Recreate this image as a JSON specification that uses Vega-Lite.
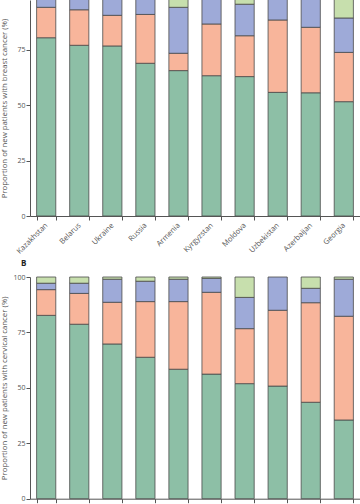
{
  "$schema": "https://vega.github.io/schema/vega-lite/v6.json",
  "padding": 0,
  "background": "white",
  "bounds": "flush",
  "spacing": 61,
  "config": {
    "view": {"stroke": null},
    "font": "Open Sans",
    "axis": {"labelFont": "Open Sans", "titleFont": "Open Sans", "labelFontSize": 7, "titleFontSize": 7.8, "labelColor": "#555", "titleColor": "#555", "titleFontWeight": "normal", "domainColor": "#555", "tickColor": "#555", "tickSize": 4, "labelPadding": 1, "grid": false},
    "axisY": {"titleX": -22},
    "bar": {"stroke": "#4a4a4a", "strokeWidth": 0.8}
  },
  "datasets": {
    "breast": [
      {"country": "Kazakhstan", "stage": "Stage I", "pct": 80.3}, {"country": "Kazakhstan", "stage": "Stage II", "pct": 13.7}, {"country": "Kazakhstan", "stage": "Stage III", "pct": 5.0}, {"country": "Kazakhstan", "stage": "Stage IV", "pct": 1.0},
      {"country": "Belarus", "stage": "Stage I", "pct": 76.9}, {"country": "Belarus", "stage": "Stage II", "pct": 16.0}, {"country": "Belarus", "stage": "Stage III", "pct": 6.1}, {"country": "Belarus", "stage": "Stage IV", "pct": 1.0},
      {"country": "Ukraine", "stage": "Stage I", "pct": 76.6}, {"country": "Ukraine", "stage": "Stage II", "pct": 13.8}, {"country": "Ukraine", "stage": "Stage III", "pct": 8.6}, {"country": "Ukraine", "stage": "Stage IV", "pct": 1.0},
      {"country": "Russia", "stage": "Stage I", "pct": 68.8}, {"country": "Russia", "stage": "Stage II", "pct": 22.0}, {"country": "Russia", "stage": "Stage III", "pct": 8.2}, {"country": "Russia", "stage": "Stage IV", "pct": 1.0},
      {"country": "Armenia", "stage": "Stage I", "pct": 65.5}, {"country": "Armenia", "stage": "Stage II", "pct": 7.8}, {"country": "Armenia", "stage": "Stage III", "pct": 20.7}, {"country": "Armenia", "stage": "Stage IV", "pct": 6.0},
      {"country": "Kyrgyzstan", "stage": "Stage I", "pct": 63.2}, {"country": "Kyrgyzstan", "stage": "Stage II", "pct": 23.3}, {"country": "Kyrgyzstan", "stage": "Stage III", "pct": 12.5}, {"country": "Kyrgyzstan", "stage": "Stage IV", "pct": 1.0},
      {"country": "Moldova", "stage": "Stage I", "pct": 62.8}, {"country": "Moldova", "stage": "Stage II", "pct": 18.4}, {"country": "Moldova", "stage": "Stage III", "pct": 14.2}, {"country": "Moldova", "stage": "Stage IV", "pct": 4.6},
      {"country": "Uzbekistan", "stage": "Stage I", "pct": 55.7}, {"country": "Uzbekistan", "stage": "Stage II", "pct": 32.6}, {"country": "Uzbekistan", "stage": "Stage III", "pct": 10.7}, {"country": "Uzbekistan", "stage": "Stage IV", "pct": 1.0},
      {"country": "Azerbaijan", "stage": "Stage I", "pct": 55.5}, {"country": "Azerbaijan", "stage": "Stage II", "pct": 29.5}, {"country": "Azerbaijan", "stage": "Stage III", "pct": 14.0}, {"country": "Azerbaijan", "stage": "Stage IV", "pct": 1.0},
      {"country": "Georgia", "stage": "Stage I", "pct": 51.5}, {"country": "Georgia", "stage": "Stage II", "pct": 22.2}, {"country": "Georgia", "stage": "Stage III", "pct": 15.5}, {"country": "Georgia", "stage": "Stage IV", "pct": 10.8}
    ],
    "cervical": [
      {"country": "Belarus", "stage": "Stage I", "pct": 82.7}, {"country": "Belarus", "stage": "Stage II", "pct": 11.6}, {"country": "Belarus", "stage": "Stage III", "pct": 2.9}, {"country": "Belarus", "stage": "Stage IV", "pct": 2.8},
      {"country": "Kazakhstan", "stage": "Stage I", "pct": 78.7}, {"country": "Kazakhstan", "stage": "Stage II", "pct": 13.9}, {"country": "Kazakhstan", "stage": "Stage III", "pct": 4.6}, {"country": "Kazakhstan", "stage": "Stage IV", "pct": 2.8},
      {"country": "Russia", "stage": "Stage I", "pct": 69.8}, {"country": "Russia", "stage": "Stage II", "pct": 18.8}, {"country": "Russia", "stage": "Stage III", "pct": 10.4}, {"country": "Russia", "stage": "Stage IV", "pct": 1.0},
      {"country": "Ukraine", "stage": "Stage I", "pct": 63.8}, {"country": "Ukraine", "stage": "Stage II", "pct": 25.1}, {"country": "Ukraine", "stage": "Stage III", "pct": 9.2}, {"country": "Ukraine", "stage": "Stage IV", "pct": 1.9},
      {"country": "Kyrgyzstan", "stage": "Stage I", "pct": 58.4}, {"country": "Kyrgyzstan", "stage": "Stage II", "pct": 30.5}, {"country": "Kyrgyzstan", "stage": "Stage III", "pct": 10.1}, {"country": "Kyrgyzstan", "stage": "Stage IV", "pct": 1.0},
      {"country": "Moldova", "stage": "Stage I", "pct": 56.2}, {"country": "Moldova", "stage": "Stage II", "pct": 36.9}, {"country": "Moldova", "stage": "Stage III", "pct": 6.3}, {"country": "Moldova", "stage": "Stage IV", "pct": 0.6},
      {"country": "Uzbekistan", "stage": "Stage I", "pct": 51.9}, {"country": "Uzbekistan", "stage": "Stage II", "pct": 24.8}, {"country": "Uzbekistan", "stage": "Stage III", "pct": 14.1}, {"country": "Uzbekistan", "stage": "Stage IV", "pct": 9.2},
      {"country": "Armenia", "stage": "Stage I", "pct": 50.8}, {"country": "Armenia", "stage": "Stage II", "pct": 34.2}, {"country": "Armenia", "stage": "Stage III", "pct": 15.0},
      {"country": "Azerbaijan", "stage": "Stage I", "pct": 43.5}, {"country": "Azerbaijan", "stage": "Stage II", "pct": 44.9}, {"country": "Azerbaijan", "stage": "Stage III", "pct": 6.5}, {"country": "Azerbaijan", "stage": "Stage IV", "pct": 5.1},
      {"country": "Georgia", "stage": "Stage I", "pct": 35.5}, {"country": "Georgia", "stage": "Stage II", "pct": 46.8}, {"country": "Georgia", "stage": "Stage III", "pct": 16.7}, {"country": "Georgia", "stage": "Stage IV", "pct": 1.0}
    ]
  },
  "vconcat": [
    {
      "data": {"name": "breast"},
      "width": 330,
      "height": 216,
      "mark": {"type": "bar", "clip": true},
      "encoding": {
        "x": {"field": "country", "type": "nominal", "sort": null, "scale": {"paddingInner": 0.42, "paddingOuter": 0.2}, "axis": {"title": null, "tickBand": "extent", "labelAngle": -45, "labelAlign": "right", "labelBaseline": "middle", "labelPadding": 4, "labelFontSize": 7.5}},
        "y": {"field": "pct", "type": "quantitative", "stack": "zero", "scale": {"domain": [0, 97.3], "nice": false}, "axis": {"values": [0, 25, 50, 75], "title": "Proportion of new patients with breast cancer (%)"}},
        "color": {"field": "stage", "type": "nominal", "scale": {"domain": ["Stage I", "Stage II", "Stage III", "Stage IV"], "range": ["#8dbfa6", "#f8b59b", "#9eaad8", "#c7dfad"]}, "legend": null},
        "order": {"field": "stage", "type": "ordinal", "sort": "ascending"}
      }
    },
    {
      "data": {"name": "cervical"},
      "width": 330,
      "height": 221.7,
      "title": {"text": "B", "anchor": "start", "frame": "group", "fontSize": 8, "fontWeight": "bold", "color": "#222", "font": "Open Sans", "offset": 5, "dx": -9},
      "mark": {"type": "bar"},
      "encoding": {
        "x": {"field": "country", "type": "nominal", "sort": null, "scale": {"paddingInner": 0.42, "paddingOuter": 0.2}, "axis": {"title": null, "tickBand": "extent", "labelAngle": -45, "labelAlign": "right", "labelBaseline": "middle", "labelPadding": 4, "labelFontSize": 7.5}},
        "y": {"field": "pct", "type": "quantitative", "stack": "zero", "scale": {"domain": [0, 100], "nice": false}, "axis": {"values": [0, 25, 50, 75, 100], "title": "Proportion of new patients with cervical cancer (%)"}},
        "color": {"field": "stage", "type": "nominal", "scale": {"domain": ["Stage I", "Stage II", "Stage III", "Stage IV"], "range": ["#8dbfa6", "#f8b59b", "#9eaad8", "#c7dfad"]}, "legend": null},
        "order": {"field": "stage", "type": "ordinal", "sort": "ascending"}
      }
    }
  ]
}
